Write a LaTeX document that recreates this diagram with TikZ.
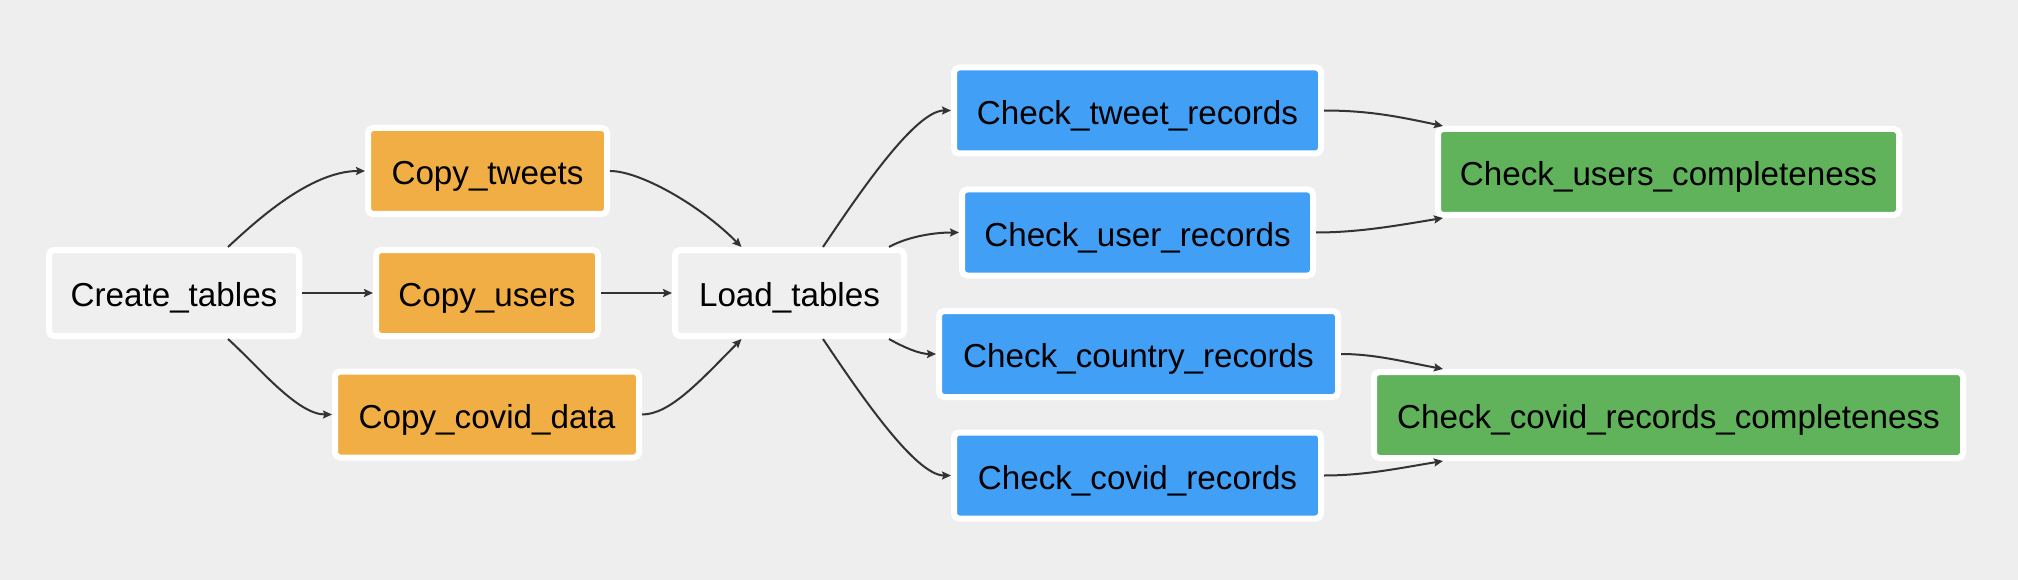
\documentclass[tikz,border=0pt]{standalone}
\usepackage{fontspec}
\setmainfont{Liberation Sans}
\usetikzlibrary{arrows.meta,calc}
\definecolor{bg}{HTML}{EEEEEE}
\definecolor{plainfill}{HTML}{EFEFEF}
\definecolor{orangefill}{HTML}{F0AE45}
\definecolor{bluefill}{HTML}{429FF6}
\definecolor{greenfill}{HTML}{60B25B}
\definecolor{edgec}{HTML}{333333}
\begin{document}
\begin{tikzpicture}[x=1pt,y=-1pt,
  task/.style={draw=white, line width=6pt, rounded corners=5pt, minimum height=86pt,
    inner sep=0pt, text height=27.3pt, text depth=0pt,
    font=\fontsize{33.2}{40}\selectfont, text=black},
  plain/.style={task, fill=plainfill},
  copytask/.style={task, fill=orangefill},
  checktask/.style={task, fill=bluefill},
  donetask/.style={task, fill=greenfill},
  edge/.style={draw=edgec, line width=2pt, -{Stealth[length=9pt,width=8pt,inset=1.5pt]}}]
\fill[bg] (0,0) rectangle (2018,580);
\useasboundingbox (0,0) rectangle (2018,580);

\node[plain, minimum width=250pt] (ct) at (174,293) {Create\_tables};
\node[copytask, minimum width=239pt] (cpt) at (487.5,171) {Copy\_tweets};
\node[copytask, minimum width=222pt] (cpu) at (487,293) {Copy\_users};
\node[copytask, minimum width=304pt] (cpc) at (487,414.5) {Copy\_covid\_data};
\node[plain, minimum width=229pt] (lt) at (789.5,293) {Load\_tables};
\node[checktask, minimum width=367pt] (ctr) at (1137.5,110.5) {Check\_tweet\_records};
\node[checktask, minimum width=351pt] (cur) at (1137.5,232.5) {Check\_user\_records};
\node[checktask, minimum width=399pt] (ccr) at (1138.5,354) {Check\_country\_records};
\node[checktask, minimum width=367pt] (ccv) at (1137.5,475.5) {Check\_covid\_records};
\node[donetask, minimum width=461pt] (cuc) at (1668.5,172) {Check\_users\_completeness};
\node[donetask, minimum width=589pt] (cvc) at (1668.5,415) {Check\_covid\_records\_completeness};

\draw[edge] ($(ct.north)+(54,0)$) .. controls +(27,-25) and +(-55,0) .. (cpt.west);
\draw[edge] (ct.east) -- (cpu.west);
\draw[edge] ($(ct.south)+(54,0)$) .. controls +(30,27) and +(-35,0) .. (cpc.west);

\draw[edge] (cpt.east) .. controls +(30,0) and +(-41.5,-42) .. ($(lt.north)+(-48,0)$);
\draw[edge] (cpu.east) -- (lt.west);
\draw[edge] (cpc.east) .. controls +(28,0) and +(-41.5,42) .. ($(lt.south)+(-48,0)$);

\draw[edge] ($(lt.north)+(33.5,0)$) .. controls +(35,-52) and +(-36,0) .. (ctr.west);
\draw[edge] ($(lt.north)+(99.5,0)$) .. controls +(16,-9) and +(-29,0) .. (cur.west);
\draw[edge] ($(lt.south)+(99.5,0)$) .. controls +(16,9) and +(-16,0) .. (ccr.west);
\draw[edge] ($(lt.south)+(33.5,0)$) .. controls +(35,52) and +(-36,0) .. (ccv.west);

\draw[edge] (ctr.east) .. controls +(46,0) and +(-43,-9) .. ($(cuc.north west)+(8,0)$);
\draw[edge] (cur.east) .. controls +(44,0) and +(-43,7) .. ($(cuc.south west)+(8,0)$);
\draw[edge] (ccr.east) .. controls +(34,0) and +(-38,-7) .. ($(cvc.north west)+(72,0)$);
\draw[edge] (ccv.east) .. controls +(41,0) and +(-43,7) .. ($(cvc.south west)+(72,0)$);
\end{tikzpicture}
\end{document}
